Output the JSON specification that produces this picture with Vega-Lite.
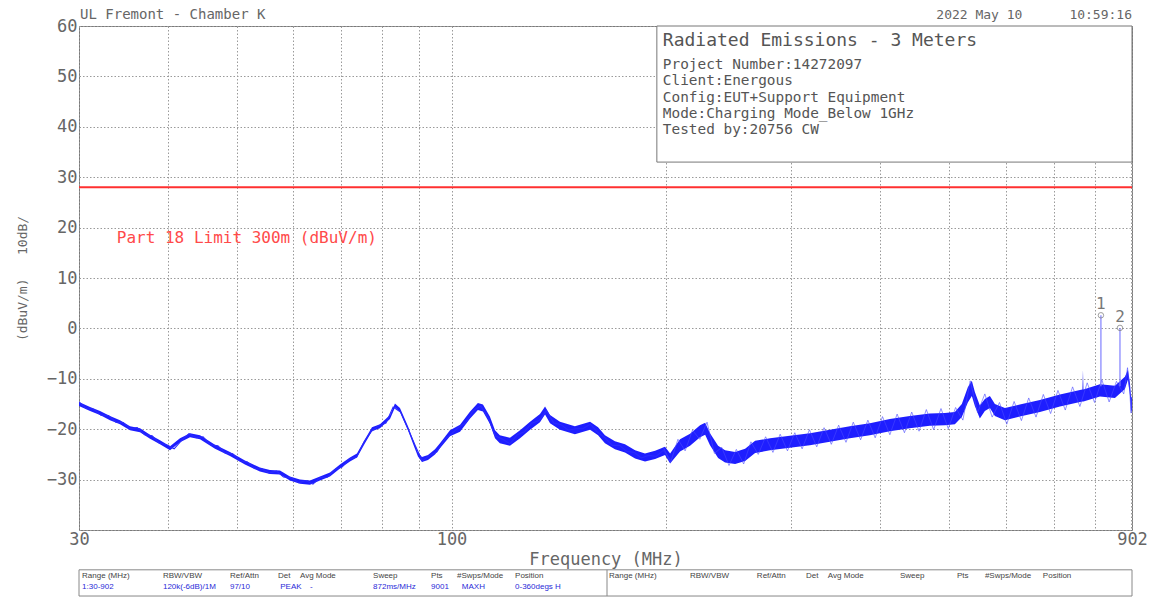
{
  "$schema": "https://vega.github.io/schema/vega-lite/v6.json",
  "width": 1053,
  "height": 504,
  "autosize": {"type": "none"},
  "padding": {"left": 79, "top": 26, "right": 17, "bottom": 68},
  "background": "white",
  "config": {"view": {"stroke": "#7a7a7a", "strokeWidth": 1}, "font": "DejaVu Sans Mono"},
  "datasets": {
    "band": [
      {"f": 30, "lo": -15.4, "hi": -14.6}, {"f": 31.09, "lo": -16.4, "hi": -15.6}, {"f": 32.11, "lo": -17.2, "hi": -16.4},
      {"f": 33.16, "lo": -18.2, "hi": -17.4}, {"f": 34.25, "lo": -19.0, "hi": -18.2}, {"f": 35.38, "lo": -20.2, "hi": -19.4},
      {"f": 36.54, "lo": -20.6, "hi": -19.8}, {"f": 37.74, "lo": -21.9, "hi": -21.1}, {"f": 38.98, "lo": -23.0, "hi": -22.2},
      {"f": 40.26, "lo": -24.2, "hi": -23.4}, {"f": 41.58, "lo": -22.6, "hi": -21.8}, {"f": 42.95, "lo": -21.6, "hi": -20.8},
      {"f": 44.36, "lo": -22.0, "hi": -21.2}, {"f": 46.56, "lo": -23.9, "hi": -23.1}, {"f": 48.87, "lo": -25.3, "hi": -24.5},
      {"f": 51.29, "lo": -27.0, "hi": -26.2}, {"f": 53.84, "lo": -28.4, "hi": -27.6}, {"f": 55.61, "lo": -28.9, "hi": -28.1},
      {"f": 57.44, "lo": -29.0, "hi": -28.2}, {"f": 59.32, "lo": -30.2, "hi": -29.4}, {"f": 61.27, "lo": -30.8, "hi": -30.0},
      {"f": 63.29, "lo": -31.0, "hi": -30.2}, {"f": 65.37, "lo": -30.2, "hi": -29.4}, {"f": 67.52, "lo": -29.4, "hi": -28.6},
      {"f": 69.73, "lo": -27.8, "hi": -27.0}, {"f": 72.02, "lo": -26.4, "hi": -25.6}, {"f": 73.67, "lo": -25.6, "hi": -24.8},
      {"f": 75.6, "lo": -22.8, "hi": -22.0}, {"f": 77.33, "lo": -20.4, "hi": -19.6}, {"f": 79.36, "lo": -19.8, "hi": -19.0},
      {"f": 81.97, "lo": -18.0, "hi": -17.2}, {"f": 83.3, "lo": -15.7, "hi": -14.9}, {"f": 84.66, "lo": -16.6, "hi": -15.8},
      {"f": 86.88, "lo": -20.2, "hi": -19.4}, {"f": 88.58, "lo": -23.4, "hi": -22.6}, {"f": 89.73, "lo": -25.4, "hi": -24.6},
      {"f": 90.9, "lo": -26.5, "hi": -25.5}, {"f": 92.68, "lo": -26.1, "hi": -25.1}, {"f": 94.8, "lo": -25.0, "hi": -24.0},
      {"f": 96.34, "lo": -23.8, "hi": -22.8}, {"f": 99.51, "lo": -21.4, "hi": -20.2}, {"f": 102.8, "lo": -20.5, "hi": -19.1},
      {"f": 106.2, "lo": -17.9, "hi": -16.5}, {"f": 108.9, "lo": -16.2, "hi": -14.8}, {"f": 110.7, "lo": -16.5, "hi": -15.1},
      {"f": 113.2, "lo": -18.9, "hi": -17.5}, {"f": 115.1, "lo": -21.8, "hi": -20.2}, {"f": 116.9, "lo": -22.8, "hi": -21.2},
      {"f": 120.8, "lo": -23.3, "hi": -21.7}, {"f": 124.8, "lo": -21.8, "hi": -20.2}, {"f": 128.9, "lo": -20.1, "hi": -18.5},
      {"f": 133.1, "lo": -18.6, "hi": -17.0}, {"f": 135.3, "lo": -17.1, "hi": -15.5}, {"f": 137.5, "lo": -18.8, "hi": -17.2},
      {"f": 142.0, "lo": -20.1, "hi": -18.5}, {"f": 149.0, "lo": -21.0, "hi": -19.4}, {"f": 156.5, "lo": -20.1, "hi": -18.5},
      {"f": 160.6, "lo": -21.2, "hi": -19.6}, {"f": 164.2, "lo": -22.8, "hi": -21.2}, {"f": 169.6, "lo": -24.0, "hi": -22.4},
      {"f": 175.2, "lo": -24.6, "hi": -23.0}, {"f": 181.0, "lo": -25.8, "hi": -24.2}, {"f": 186.9, "lo": -26.4, "hi": -24.8},
      {"f": 193.1, "lo": -25.9, "hi": -24.3}, {"f": 199.4, "lo": -25.1, "hi": -23.5}, {"f": 202.7, "lo": -26.8, "hi": -24.8},
      {"f": 209.3, "lo": -24.4, "hi": -22.0}, {"f": 216.2, "lo": -23.3, "hi": -20.9}, {"f": 223.3, "lo": -21.6, "hi": -19.2},
      {"f": 227.0, "lo": -21.1, "hi": -18.7}, {"f": 230.6, "lo": -23.2, "hi": -20.8}, {"f": 236.7, "lo": -25.7, "hi": -23.3},
      {"f": 242.1, "lo": -26.6, "hi": -24.2}, {"f": 250.1, "lo": -26.9, "hi": -24.5}, {"f": 258.3, "lo": -26.3, "hi": -23.9},
      {"f": 266.8, "lo": -24.7, "hi": -22.3}, {"f": 280.0, "lo": -24.2, "hi": -21.8}, {"f": 298.5, "lo": -23.7, "hi": -21.3},
      {"f": 318.5, "lo": -23.2, "hi": -20.8}, {"f": 339.7, "lo": -22.5, "hi": -20.1}, {"f": 362.4, "lo": -21.8, "hi": -19.4},
      {"f": 386.6, "lo": -21.2, "hi": -18.8}, {"f": 412.4, "lo": -20.4, "hi": -18.0}, {"f": 439.9, "lo": -19.8, "hi": -17.4},
      {"f": 469.3, "lo": -19.3, "hi": -16.9}, {"f": 492.6, "lo": -19.2, "hi": -16.8}, {"f": 508.8, "lo": -19.0, "hi": -16.6},
      {"f": 520.4, "lo": -17.6, "hi": -15.0}, {"f": 530.6, "lo": -14.7, "hi": -11.7}, {"f": 537.5, "lo": -13.4, "hi": -10.4},
      {"f": 542.8, "lo": -15.4, "hi": -12.6}, {"f": 551.6, "lo": -17.9, "hi": -15.3}, {"f": 560.6, "lo": -16.4, "hi": -14.0},
      {"f": 569.8, "lo": -15.8, "hi": -13.4}, {"f": 579.1, "lo": -17.4, "hi": -15.0}, {"f": 598.1, "lo": -18.2, "hi": -15.8},
      {"f": 627.7, "lo": -17.5, "hi": -15.1}, {"f": 669.8, "lo": -16.6, "hi": -14.2}, {"f": 714.6, "lo": -15.5, "hi": -13.1},
      {"f": 762.4, "lo": -14.6, "hi": -12.2}, {"f": 768.5, "lo": -14.5, "hi": -12.1}, {"f": 769.8, "lo": -14.5, "hi": -8.3},
      {"f": 771.0, "lo": -14.5, "hi": -12.1}, {"f": 813.2, "lo": -13.5, "hi": -11.1}, {"f": 853.6, "lo": -13.8, "hi": -11.4},
      {"f": 881.6, "lo": -12.0, "hi": -9.6}, {"f": 890.2, "lo": -10.2, "hi": -8.2}, {"f": 896.0, "lo": -13.2, "hi": -10.8},
      {"f": 899.0, "lo": -16.5, "hi": -13.5}, {"f": 902, "lo": -16.2, "hi": -13.8}
    ],
    "lowTrace": [
      {"f": 30.0, "v": -14.6}, {"f": 30.7, "v": -15.9}, {"f": 31.4, "v": -16.0}, {"f": 32.2, "v": -17.2}, {"f": 33.0, "v": -17.3},
      {"f": 33.8, "v": -18.6}, {"f": 34.6, "v": -18.7}, {"f": 35.4, "v": -19.9}, {"f": 36.2, "v": -19.7}, {"f": 37.1, "v": -21.1},
      {"f": 38.0, "v": -21.3}, {"f": 38.9, "v": -22.8}, {"f": 39.8, "v": -23.1}, {"f": 40.8, "v": -23.9}, {"f": 41.8, "v": -22.2},
      {"f": 42.8, "v": -20.9}, {"f": 43.8, "v": -21.7}, {"f": 44.8, "v": -21.5}, {"f": 45.9, "v": -23.1}, {"f": 47.0, "v": -23.3},
      {"f": 48.1, "v": -24.7}, {"f": 49.3, "v": -24.9}, {"f": 50.5, "v": -26.3}, {"f": 51.7, "v": -26.5}, {"f": 52.9, "v": -27.8},
      {"f": 54.2, "v": -27.9}, {"f": 55.5, "v": -28.7}, {"f": 56.8, "v": -28.3}, {"f": 58.1, "v": -29.5}, {"f": 59.5, "v": -29.6},
      {"f": 61.0, "v": -30.6}, {"f": 62.4, "v": -30.2}, {"f": 63.9, "v": -30.9}, {"f": 65.4, "v": -29.6}, {"f": 67.0, "v": -29.5},
      {"f": 68.6, "v": -28.0}, {"f": 70.2, "v": -27.5}, {"f": 71.9, "v": -25.9}, {"f": 73.6, "v": -25.5}, {"f": 75.4, "v": -22.5},
      {"f": 77.2, "v": -20.4}, {"f": 79.0, "v": -19.3}, {"f": 80.9, "v": -18.8}, {"f": 82.8, "v": -15.6}, {"f": 84.8, "v": -16.6},
      {"f": 86.8, "v": -19.8}, {"f": 88.9, "v": -23.2}, {"f": 91.0, "v": -26.3}, {"f": 93.2, "v": -25.2}, {"f": 95.4, "v": -24.5},
      {"f": 97.7, "v": -22.1}, {"f": 100.0, "v": -20.9}, {"f": 102.4, "v": -19.6}, {"f": 104.8, "v": -18.7}, {"f": 107.3, "v": -16.3},
      {"f": 109.9, "v": -15.4}, {"f": 112.5, "v": -17.7}, {"f": 115.2, "v": -21.3}, {"f": 118.0, "v": -22.0}, {"f": 120.8, "v": -22.9},
      {"f": 123.7, "v": -21.1}, {"f": 126.6, "v": -20.5}, {"f": 129.6, "v": -18.8}, {"f": 132.7, "v": -18.3}, {"f": 135.9, "v": -16.3},
      {"f": 139.2, "v": -18.8}, {"f": 142.5, "v": -19.1}, {"f": 145.9, "v": -20.2}, {"f": 149.4, "v": -19.9}, {"f": 152.9, "v": -19.9},
      {"f": 156.6, "v": -19.0}, {"f": 160.3, "v": -20.6}, {"f": 164.2, "v": -21.7}, {"f": 168.1, "v": -23.2}, {"f": 172.1, "v": -23.2},
      {"f": 176.2, "v": -24.4}, {"f": 180.4, "v": -24.6}, {"f": 184.7, "v": -25.7}, {"f": 189.1, "v": -25.2}, {"f": 193.7, "v": -25.4},
      {"f": 198.3, "v": -24.2}, {"f": 203.0, "v": -26.1}
    ],
    "fuzz": [
      {"f": 198.3, "v": -23.6}, {"f": 203.0, "v": -26.6}, {"f": 207.9, "v": -22.0}, {"f": 212.8, "v": -24.3}, {"f": 217.9, "v": -20.2},
      {"f": 223.1, "v": -22.0}, {"f": 228.4, "v": -18.6}, {"f": 233.9, "v": -24.8}, {"f": 239.5, "v": -23.6}, {"f": 245.2, "v": -27.2},
      {"f": 251.1, "v": -24.0}, {"f": 257.1, "v": -26.9}, {"f": 263.2, "v": -22.5}, {"f": 269.5, "v": -25.0}, {"f": 276.0, "v": -21.5},
      {"f": 282.6, "v": -24.6}, {"f": 289.3, "v": -21.0}, {"f": 296.2, "v": -24.3}, {"f": 303.3, "v": -20.7}, {"f": 310.6, "v": -23.9},
      {"f": 318.0, "v": -20.1}, {"f": 325.6, "v": -23.5}, {"f": 333.4, "v": -19.7}, {"f": 341.3, "v": -23.0}, {"f": 349.5, "v": -19.2},
      {"f": 357.9, "v": -22.6}, {"f": 366.4, "v": -18.6}, {"f": 375.2, "v": -22.1}, {"f": 384.1, "v": -18.2}, {"f": 393.3, "v": -21.7},
      {"f": 402.7, "v": -17.5}, {"f": 412.4, "v": -21.1}, {"f": 422.2, "v": -17.0}, {"f": 432.3, "v": -20.7}, {"f": 442.6, "v": -16.6},
      {"f": 453.2, "v": -20.4}, {"f": 464.0, "v": -16.1}, {"f": 475.1, "v": -20.1}, {"f": 486.5, "v": -15.9}, {"f": 498.1, "v": -19.9},
      {"f": 510.0, "v": -15.7}, {"f": 522.2, "v": -18.2}, {"f": 534.7, "v": -10.4}, {"f": 547.5, "v": -16.7}, {"f": 560.6, "v": -13.0},
      {"f": 574.0, "v": -17.6}, {"f": 587.7, "v": -14.7}, {"f": 601.8, "v": -19.0}, {"f": 616.2, "v": -14.5}, {"f": 630.9, "v": -18.3},
      {"f": 646.0, "v": -13.8}, {"f": 661.4, "v": -17.6}, {"f": 677.2, "v": -13.1}, {"f": 693.4, "v": -16.9}, {"f": 710.0, "v": -12.3},
      {"f": 727.0, "v": -16.2}, {"f": 744.4, "v": -11.6}, {"f": 762.2, "v": -15.5}, {"f": 780.4, "v": -10.8}, {"f": 799.1, "v": -14.7},
      {"f": 818.2, "v": -10.2}, {"f": 837.8, "v": -14.6}, {"f": 857.8, "v": -10.5}, {"f": 878.3, "v": -13.0}, {"f": 889.0, "v": -7.8},
      {"f": 895.5, "v": -12.5}, {"f": 899.3, "v": -16.8}, {"f": 902.0, "v": -13.5}
    ],
    "markers": [
      {"f": 815.8, "v": 2.6, "base": -11.5, "m": "1"},
      {"f": 867.6, "v": 0.1, "base": -11.5, "m": "2"}
    ],
    "limit": [{"f0": 30, "f1": 902, "v": 28}],
    "limitLabel": [{"f": 33.9, "v": 17.9, "t": "Part 18 Limit 300m (dBuV/m)"}],
    "box": [{"f0": 194.2, "f1": 902, "v0": 33.0, "v1": 60}],
    "boxTitle": [{"f": 198, "v": 57.0, "t": "Radiated Emissions - 3 Meters"}],
    "boxLines": [
      {"f": 198, "v": 52.3, "t": "Project Number:14272097"},
      {"f": 198, "v": 49.0, "t": "Client:Energous"},
      {"f": 198, "v": 45.8, "t": "Config:EUT+Support Equipment"},
      {"f": 198, "v": 42.6, "t": "Mode:Charging Mode_Below 1GHz"},
      {"f": 198, "v": 39.4, "t": "Tested by:20756 CW"}
    ],
    "headLeft": [{"f": 30, "v": 62.2, "t": "UL Fremont - Chamber K"}],
    "headRight": [{"f": 902, "v": 62.2, "t": "2022 May 10\u00a0\u00a0\u00a0\u00a0\u00a0\u00a010:59:16"}],
    "tableBox": [{"f0": 30, "f1": 902, "v0": -47.9, "v1": -53.1}],
    "tableDiv": [{"f": 165.3, "v0": -47.9, "v1": -53.1}],
    "table": [
      {"f": 30.3, "v": -49.1, "t": "Range (MHz)", "k": "h"},
      {"f": 39.35, "v": -49.1, "t": "RBW/VBW", "k": "h"},
      {"f": 48.87, "v": -49.1, "t": "Ref/Attn", "k": "h"},
      {"f": 57.06, "v": -49.1, "t": "Det", "k": "h"},
      {"f": 61.27, "v": -49.1, "t": "Avg Mode", "k": "h"},
      {"f": 77.6, "v": -49.1, "t": "Sweep", "k": "h"},
      {"f": 93.6, "v": -49.1, "t": "Pts", "k": "h"},
      {"f": 101.8, "v": -49.1, "t": "#Swps/Mode", "k": "h"},
      {"f": 122.8, "v": -49.1, "t": "Position", "k": "h"},
      {"f": 30.3, "v": -51.3, "t": "1:30-902", "k": "v"},
      {"f": 39.35, "v": -51.3, "t": "120k(-6dB)/1M", "k": "v"},
      {"f": 48.87, "v": -51.3, "t": "97/10", "k": "v"},
      {"f": 57.5, "v": -51.3, "t": "PEAK", "k": "v"},
      {"f": 63.3, "v": -51.3, "t": "-", "k": "v"},
      {"f": 77.6, "v": -51.3, "t": "872ms/MHz", "k": "v"},
      {"f": 93.6, "v": -51.3, "t": "9001", "k": "v"},
      {"f": 103.4, "v": -51.3, "t": "MAXH", "k": "v"},
      {"f": 122.8, "v": -51.3, "t": "0-360degs H", "k": "v"},
      {"f": 166.4, "v": -49.1, "t": "Range (MHz)", "k": "h"},
      {"f": 216.1, "v": -49.1, "t": "RBW/VBW", "k": "h"},
      {"f": 268.3, "v": -49.1, "t": "Ref/Attn", "k": "h"},
      {"f": 314.5, "v": -49.1, "t": "Det", "k": "h"},
      {"f": 337.5, "v": -49.1, "t": "Avg Mode", "k": "h"},
      {"f": 426, "v": -49.1, "t": "Sweep", "k": "h"},
      {"f": 512.2, "v": -49.1, "t": "Pts", "k": "h"},
      {"f": 560.7, "v": -49.1, "t": "#Swps/Mode", "k": "h"},
      {"f": 676.2, "v": -49.1, "t": "Position", "k": "h"}
    ]
  },
  "layer": [
    {
      "data": {"name": "band"},
      "mark": {"type": "area", "color": "#1e1eff", "clip": true},
      "encoding": {
        "x": {
          "field": "f", "type": "quantitative",
          "scale": {"type": "log", "domain": [30, 902], "nice": false},
          "axis": {
            "values": [30, 40, 50, 60, 70, 80, 90, 100, 200, 300, 400, 500, 600, 700, 800, 900, 902],
            "format": "d",
            "labelExpr": "datum.value == 30 || datum.value == 100 || datum.value == 902 ? datum.label : ''",
            "grid": true, "gridColor": "#9a9a9a", "gridDash": [1.5, 2], "gridWidth": 1,
            "domain": false, "ticks": false,
            "labelFont": "DejaVu Sans Mono", "labelFontSize": 17, "labelColor": "#666666",
            "labelPadding": 1, "labelOverlap": false, "labelFlush": false,
            "title": "Frequency (MHz)", "titleFont": "DejaVu Sans Mono", "titleFontSize": 17,
            "titleFontWeight": "normal", "titleColor": "#666666", "titlePadding": 4
          }
        },
        "y": {
          "field": "lo", "type": "quantitative",
          "scale": {"domain": [-40, 60], "nice": false, "zero": false},
          "axis": {
            "values": [-40, -30, -20, -10, 0, 10, 20, 30, 40, 50, 60],
            "labelExpr": "datum.value == -40 ? '' : datum.label",
            "grid": true, "gridColor": "#9a9a9a", "gridDash": [1.5, 2], "gridWidth": 1,
            "domain": false, "ticks": false,
            "labelFont": "DejaVu Sans Mono", "labelFontSize": 17, "labelColor": "#666666",
            "labelPadding": 2, "labelOverlap": false, "labelFlush": false,
            "title": "(dBuV/m)\u00a0\u00a0\u00a010dB/", "titleFont": "DejaVu Sans Mono", "titleFontSize": 13,
            "titleFontWeight": "normal", "titleColor": "#666666", "titlePadding": 17
          }
        },
        "y2": {"field": "hi"}
      }
    },
    {
      "data": {"name": "lowTrace"},
      "mark": {"type": "line", "color": "#2a2aff", "strokeWidth": 1.1, "clip": true},
      "encoding": {
        "x": {"field": "f", "type": "quantitative"},
        "y": {"field": "v", "type": "quantitative"}
      }
    },
    {
      "data": {"name": "fuzz"},
      "mark": {"type": "line", "color": "#4848ff", "strokeWidth": 0.6, "clip": true},
      "encoding": {
        "x": {"field": "f", "type": "quantitative"},
        "y": {"field": "v", "type": "quantitative"}
      }
    },
    {
      "data": {"name": "markers"},
      "mark": {"type": "rule", "color": "#8080ff", "strokeWidth": 1.2},
      "encoding": {
        "x": {"field": "f", "type": "quantitative"},
        "y": {"field": "base", "type": "quantitative"},
        "y2": {"field": "v"}
      }
    },
    {
      "data": {"name": "limit"},
      "mark": {"type": "rule", "color": "#ff3030", "strokeWidth": 2},
      "encoding": {
        "x": {"field": "f0", "type": "quantitative"},
        "x2": {"field": "f1"},
        "y": {"field": "v", "type": "quantitative"}
      }
    },
    {
      "data": {"name": "limitLabel"},
      "mark": {"type": "text", "color": "#ff4a4a", "font": "DejaVu Sans Mono", "fontSize": 16, "align": "left", "baseline": "middle"},
      "encoding": {
        "x": {"field": "f", "type": "quantitative"},
        "y": {"field": "v", "type": "quantitative"},
        "text": {"field": "t"}
      }
    },
    {
      "data": {"name": "box"},
      "mark": {"type": "rect", "fill": "white", "stroke": "#777777", "strokeWidth": 1},
      "encoding": {
        "x": {"field": "f0", "type": "quantitative"},
        "x2": {"field": "f1"},
        "y": {"field": "v0", "type": "quantitative"},
        "y2": {"field": "v1"}
      }
    },
    {
      "data": {"name": "boxTitle"},
      "mark": {"type": "text", "color": "#555555", "font": "DejaVu Sans Mono", "fontSize": 18, "align": "left", "baseline": "middle"},
      "encoding": {
        "x": {"field": "f", "type": "quantitative"},
        "y": {"field": "v", "type": "quantitative"},
        "text": {"field": "t"}
      }
    },
    {
      "data": {"name": "boxLines"},
      "mark": {"type": "text", "color": "#555555", "font": "DejaVu Sans Mono", "fontSize": 14.4, "align": "left", "baseline": "middle"},
      "encoding": {
        "x": {"field": "f", "type": "quantitative"},
        "y": {"field": "v", "type": "quantitative"},
        "text": {"field": "t"}
      }
    },
    {
      "data": {"name": "headLeft"},
      "mark": {"type": "text", "color": "#666666", "font": "DejaVu Sans Mono", "fontSize": 14, "align": "left", "baseline": "middle", "dx": 1, "clip": false},
      "encoding": {
        "x": {"field": "f", "type": "quantitative"},
        "y": {"field": "v", "type": "quantitative"},
        "text": {"field": "t"}
      }
    },
    {
      "data": {"name": "headRight"},
      "mark": {"type": "text", "color": "#666666", "font": "DejaVu Sans Mono", "fontSize": 13, "align": "right", "baseline": "middle", "clip": false},
      "encoding": {
        "x": {"field": "f", "type": "quantitative"},
        "y": {"field": "v", "type": "quantitative"},
        "text": {"field": "t"}
      }
    },
    {
      "data": {"name": "markers"},
      "mark": {"type": "point", "shape": "circle", "filled": false, "stroke": "#777777", "strokeWidth": 1, "size": 30},
      "encoding": {
        "x": {"field": "f", "type": "quantitative"},
        "y": {"field": "v", "type": "quantitative"}
      }
    },
    {
      "data": {"name": "markers"},
      "mark": {"type": "text", "color": "#777777", "font": "DejaVu Sans Mono", "fontSize": 16, "baseline": "bottom", "dy": -3},
      "encoding": {
        "x": {"field": "f", "type": "quantitative"},
        "y": {"field": "v", "type": "quantitative"},
        "text": {"field": "m"}
      }
    },
    {
      "data": {"name": "tableBox"},
      "mark": {"type": "rect", "fill": "white", "stroke": "#888888", "strokeWidth": 1, "clip": false},
      "encoding": {
        "x": {"field": "f0", "type": "quantitative"},
        "x2": {"field": "f1"},
        "y": {"field": "v0", "type": "quantitative"},
        "y2": {"field": "v1"}
      }
    },
    {
      "data": {"name": "tableDiv"},
      "mark": {"type": "rule", "color": "#888888", "strokeWidth": 1, "clip": false},
      "encoding": {
        "x": {"field": "f", "type": "quantitative"},
        "y": {"field": "v0", "type": "quantitative"},
        "y2": {"field": "v1"}
      }
    },
    {
      "data": {"name": "table"},
      "mark": {"type": "text", "font": "Liberation Sans", "fontSize": 8, "align": "left", "baseline": "middle", "clip": false},
      "encoding": {
        "x": {"field": "f", "type": "quantitative"},
        "y": {"field": "v", "type": "quantitative"},
        "text": {"field": "t"},
        "color": {"field": "k", "type": "nominal", "scale": {"domain": ["h", "v"], "range": ["#444444", "#2a2ad8"]}, "legend": null}
      }
    }
  ]
}
